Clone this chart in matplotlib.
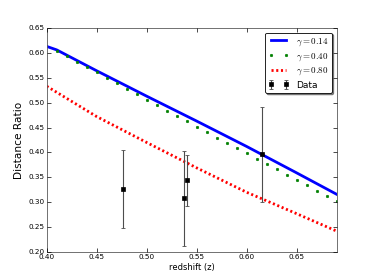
import matplotlib
matplotlib.use("Agg")
import matplotlib.pyplot as plt

# model curves
z_blue = [0.40, 0.41, 0.45, 0.50, 0.55, 0.60, 0.65, 0.69]
ratio_blue = [0.613, 0.606, 0.564, 0.513, 0.463, 0.412, 0.359, 0.316]

z_green = [0.41, 0.42, 0.43, 0.44, 0.45, 0.46, 0.47, 0.48, 0.49, 0.50,
           0.51, 0.52, 0.53, 0.54, 0.55, 0.56, 0.57, 0.58, 0.59, 0.60,
           0.61, 0.62, 0.63, 0.64, 0.65, 0.66, 0.67, 0.68, 0.69]
ratio_green = [0.6045, 0.593, 0.5824, 0.5718, 0.561, 0.5497, 0.539, 0.5277, 0.5169, 0.5062,
               0.4956, 0.4842, 0.4735, 0.4627, 0.4521, 0.4407, 0.430, 0.4194, 0.4086, 0.398,
               0.3873, 0.3765, 0.3659, 0.3552, 0.3444, 0.3338, 0.3231, 0.3131, 0.3023]

z_red = [0.40, 0.45, 0.50, 0.55, 0.60, 0.65, 0.69]
ratio_red = [0.533, 0.472, 0.420, 0.369, 0.320, 0.277, 0.242]

# measurements
z_data = [0.476, 0.537, 0.540, 0.615]
ratio_data = [0.326, 0.308, 0.344, 0.396]
ratio_err = [0.078, 0.095, 0.051, 0.095]

labels = [r"$\gamma=0.14$", r"$\gamma=0.40$", r"$\gamma=0.80$", "Data"]

plt.style.use("classic")
plt.rcParams["figure.facecolor"] = "white"
plt.rcParams["savefig.facecolor"] = "white"
plt.rcParams["mathtext.fontset"] = "cm"

fig = plt.figure(figsize=(3.74, 2.8), dpi=100)
ax = fig.add_subplot(111)
fig.subplots_adjust(left=0.125, right=0.9, bottom=0.1, top=0.9)

ax.plot(z_blue, ratio_blue, color="b", lw=2, label=labels[0])
ax.plot(z_green, ratio_green, "g.", ms=3.5, mec="g", label=labels[1])
ax.plot(z_red, ratio_red, color="r", lw=2, linestyle=(0, (1.5, 1.9)), label=labels[2])
ax.errorbar(z_data, ratio_data, yerr=ratio_err, fmt="ks", ms=3,
            ecolor="0.3", elinewidth=0.8, capsize=1.6, capthick=0.6, label=labels[3])

ax.set_xlim(0.40, 0.69)
ax.set_ylim(0.20, 0.65)
ax.set_xticks([0.40, 0.45, 0.50, 0.55, 0.60, 0.65])
ax.set_yticks([0.20, 0.25, 0.30, 0.35, 0.40, 0.45, 0.50, 0.55, 0.60, 0.65])
ax.tick_params(labelsize=5.2, length=3, width=0.5, pad=1.5)
for sp in ax.spines.values():
    sp.set_linewidth(0.6)
    sp.set_color("0.35")

ax.set_xlabel("redshift (z)", fontsize=6, labelpad=2)
ax.set_ylabel("Distance Ratio", fontsize=7.6, labelpad=3)

leg = ax.legend(loc="upper right", fontsize=6.5, fancybox=True,
                shadow={"ox": 1.2, "oy": -1.2, "color": "0.2", "alpha": 0.6},
                numpoints=2, handlelength=2.2, borderpad=0.4, labelspacing=0.35)
leg.get_frame().set_linewidth(0.6)

fig.savefig("out.png", dpi=100)
